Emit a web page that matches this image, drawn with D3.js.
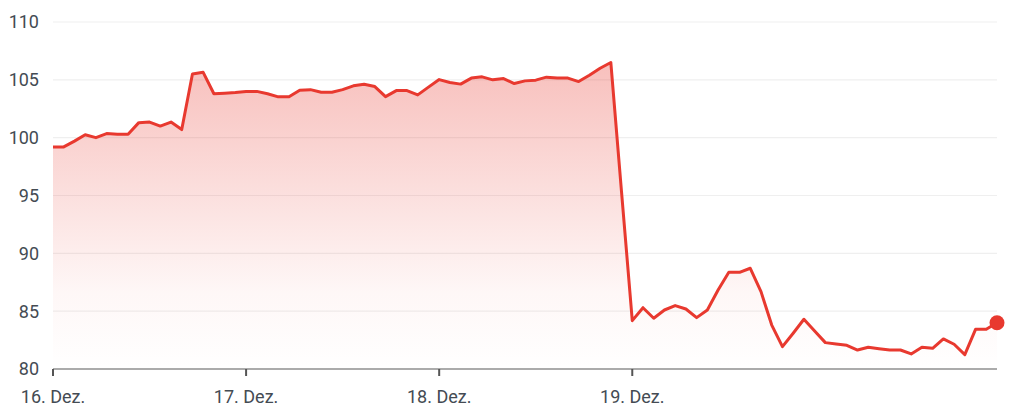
<!DOCTYPE html>
<html>
<head>
<meta charset="utf-8">
<style>
  body { margin: 0; background: #fff; }
  svg { display: block; font-family: Roboto, "Noto Sans", sans-serif; }
</style>
</head>
<body>
<svg width="1020" height="415"></svg>
<script src="https://cdnjs.cloudflare.com/ajax/libs/d3/7.8.5/d3.min.js"></script>
<script>
// price series, one value per step (18 steps per day)
var prices = [
  99.2, 99.2, 99.7, 100.25, 100.0, 100.35, 100.3, 100.3, 101.3, 101.35,
  101.0, 101.35, 100.7, 105.5, 105.65, 103.8, 103.85, 103.9, 104.0, 104.0,
  103.8, 103.53, 103.53, 104.1, 104.15, 103.93, 103.93, 104.15, 104.48, 104.62,
  104.42, 103.55, 104.07, 104.07, 103.7, 104.37, 105.02, 104.77, 104.63, 105.15,
  105.26, 105.0, 105.11, 104.68, 104.91, 104.97, 105.23, 105.15, 105.15, 104.85,
  105.4, 106.0, 106.5, 95.3, 84.18, 85.3, 84.39, 85.1, 85.48, 85.19,
  84.44, 85.1, 86.83, 88.36, 88.36, 88.71, 86.69, 83.8, 81.93, 83.09,
  84.3, 83.29, 82.28, 82.16, 82.05, 81.64, 81.88, 81.76, 81.64, 81.64,
  81.3, 81.88, 81.79, 82.6, 82.14, 81.24, 83.43, 83.43, 84.0
];
var dayTicks = [0, 18, 36, 54];
var dayLabels = ["16. Dez.", "17. Dez.", "18. Dez.", "19. Dez."];
var yTicks = [80, 85, 90, 95, 100, 105, 110];

var svg = d3.select("svg"),
    margin = {top: 22, right: 23, bottom: 46, left: 53},
    width = +svg.attr("width") - margin.left - margin.right,
    height = +svg.attr("height") - margin.top - margin.bottom,
    g = svg.append("g").attr("transform", "translate(" + margin.left + "," + margin.top + ")");

var red = "#e8392f";
var labelColor = "#444b53";

var x = d3.scaleLinear().domain([0, prices.length - 1]).range([0, width]);
var y = d3.scaleLinear().domain([80, 110]).range([height, 0]);

// gradient under the line
var grad = svg.append("defs").append("linearGradient")
    .attr("id", "fade")
    .attr("gradientUnits", "userSpaceOnUse")
    .attr("x1", 0).attr("x2", 0)
    .attr("y1", y(d3.max(prices))).attr("y2", y(80));
grad.append("stop").attr("offset", 0).attr("stop-color", red).attr("stop-opacity", 0.32);
grad.append("stop").attr("offset", 0.75).attr("stop-color", red).attr("stop-opacity", 0.04);
grad.append("stop").attr("offset", 1).attr("stop-color", red).attr("stop-opacity", 0);

// grid lines
g.append("g")
  .selectAll("line")
  .data(yTicks.filter(function(d) { return d > 80; }))
  .enter().append("line")
    .attr("x1", 0).attr("x2", width)
    .attr("y1", function(d) { return y(d); })
    .attr("y2", function(d) { return y(d); })
    .attr("stroke", "#efefef")
    .attr("stroke-width", 1.2);

// y labels
g.append("g")
  .selectAll("text")
  .data(yTicks)
  .enter().append("text")
    .attr("x", -14)
    .attr("y", function(d) { return y(d); })
    .attr("dy", "0.36em")
    .attr("text-anchor", "end")
    .attr("fill", labelColor)
    .style("font-size", "18px")
    .text(function(d) { return d; });

var area = d3.area()
    .x(function(d, i) { return x(i); })
    .y0(height)
    .y1(function(d) { return y(d); });

var line = d3.line()
    .x(function(d, i) { return x(i); })
    .y(function(d) { return y(d); });

g.append("path")
  .datum(prices)
  .attr("fill", "url(#fade)")
  .attr("d", area);

// x axis
var xAxis = g.append("g")
  .attr("transform", "translate(0," + height + ")");
xAxis.append("line")
  .attr("x1", 0).attr("x2", width)
  .attr("stroke", "#8f8f8f")
  .attr("stroke-width", 1.5);
xAxis.selectAll(".tick")
  .data(dayTicks)
  .enter().append("line")
    .attr("x1", function(d) { return x(d); })
    .attr("x2", function(d) { return x(d); })
    .attr("y1", 0).attr("y2", 7)
    .attr("stroke", "#555")
    .attr("stroke-width", 2);
xAxis.selectAll("text")
  .data(dayTicks)
  .enter().append("text")
    .attr("x", function(d) { return x(d); })
    .attr("y", 34)
    .attr("text-anchor", "middle")
    .attr("fill", labelColor)
    .style("font-size", "18px")
    .text(function(d, i) { return dayLabels[i]; });

g.append("path")
  .datum(prices)
  .attr("fill", "none")
  .attr("stroke", red)
  .attr("stroke-width", 3)
  .attr("stroke-linejoin", "round")
  .attr("d", line);

var last = prices.length - 1;
g.append("circle")
  .attr("cx", x(last))
  .attr("cy", y(prices[last]))
  .attr("r", 7.5)
  .attr("fill", red);
</script>
</body>
</html>
